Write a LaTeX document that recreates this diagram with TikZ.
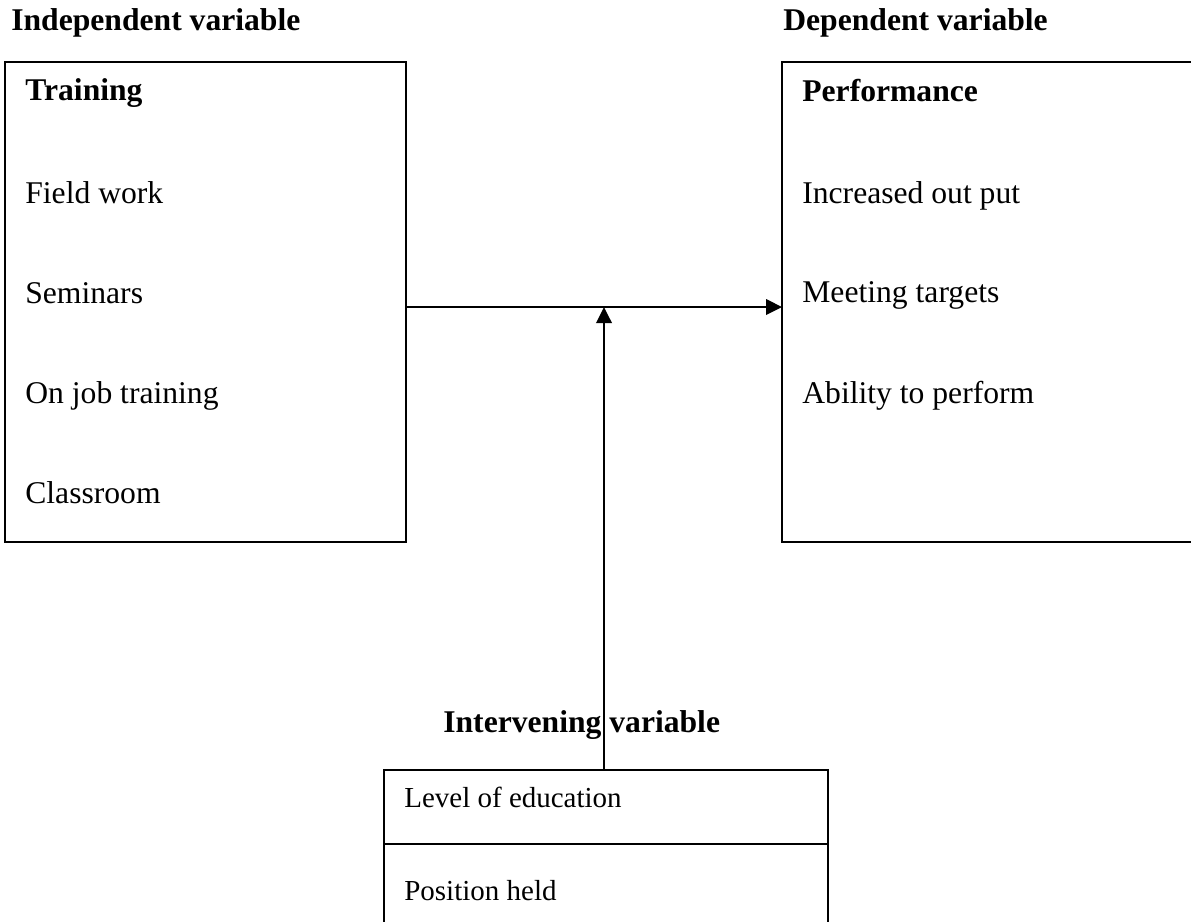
\documentclass[tikz,border=0pt]{standalone}
\usepackage{fontspec}
\setmainfont{Liberation Serif}
\usepackage{tikz}
\usetikzlibrary{positioning,calc,arrows.meta}

\begin{document}
\begin{tikzpicture}[
        x=0.02cm, y=-0.02cm,
        % --- STYLE CHUNG ---
        var_box/.style={
            rectangle,
            draw=black,
            line width=1.2pt,
            inner sep=0pt,
            outer sep=0pt
        },
        % Chữ thường trong hộp
        item_text/.style={
            anchor=base west,
            inner sep=0pt,
            font=\fontsize{18}{22}\selectfont
        },
        % Tiêu đề (đậm)
        head_text/.style={
            item_text,
            font=\fontsize{18}{22}\selectfont\bfseries
        },
        % Chữ nhỏ hơn trong hộp dưới
        small_text/.style={
            item_text,
            font=\fontsize{16.5}{20}\selectfont
        },
        % Mũi tên
        link/.style={
            draw=black,
            line width=1.1pt,
            -{Triangle[length=0.32cm, width=0.31cm]}
        }
    ]

        \useasboundingbox (0,0) rectangle (1191,921);
        \clip (0,0) rectangle (1191,921);

        % --- TIÊU ĐỀ ---
        \node[head_text] (indep) at (11,30) {Independent variable};
        \node[head_text] (dep) at (783,30) {Dependent variable};

        % --- HỘP TRÁI ---
        \node[var_box, minimum width=8.02cm, minimum height=9.6cm] (trainbox) at (205.5,302) {};
        \node[head_text] (training) at (25,100) {Training};
        \foreach \name/\txt/\yy in {field/Field work/203, seminar/Seminars/303,
                                    onjob/On job training/403, classroom/Classroom/503} {
            \node[item_text] (\name) at (25,\yy) {\txt};
        }

        % --- HỘP PHẢI ---
        \node[var_box, minimum width=8.36cm, minimum height=9.6cm] (perfbox) at (991,302) {};
        \node[head_text] (performance) at (802,101) {Performance};
        \foreach \name/\txt/\yy in {output/Increased out put/203, targets/Meeting targets/302,
                                    ability/Ability to perform/403} {
            \node[item_text] (\name) at (802,\yy) {\txt};
        }

        % --- HỘP DƯỚI ---
        \node[head_text] (interv) at (443,732) {Intervening variable};
        \node[var_box, minimum width=8.88cm, minimum height=1.48cm] (edubox) at (606,807) {};
        \node[var_box, minimum width=8.88cm, minimum height=2.12cm] (posbox) at (606,897) {};
        \node[small_text] (education) at (404,807) {Level of education};
        \node[small_text] (position) at (404,900) {Position held};

        % --- MŨI TÊN ---
        \coordinate (mid) at (604,307);
        \draw[link] (trainbox.east |- mid) -- (perfbox.west |- mid);
        \draw[link] (edubox.north -| mid) -- (mid);

    \end{tikzpicture}
\end{document}
